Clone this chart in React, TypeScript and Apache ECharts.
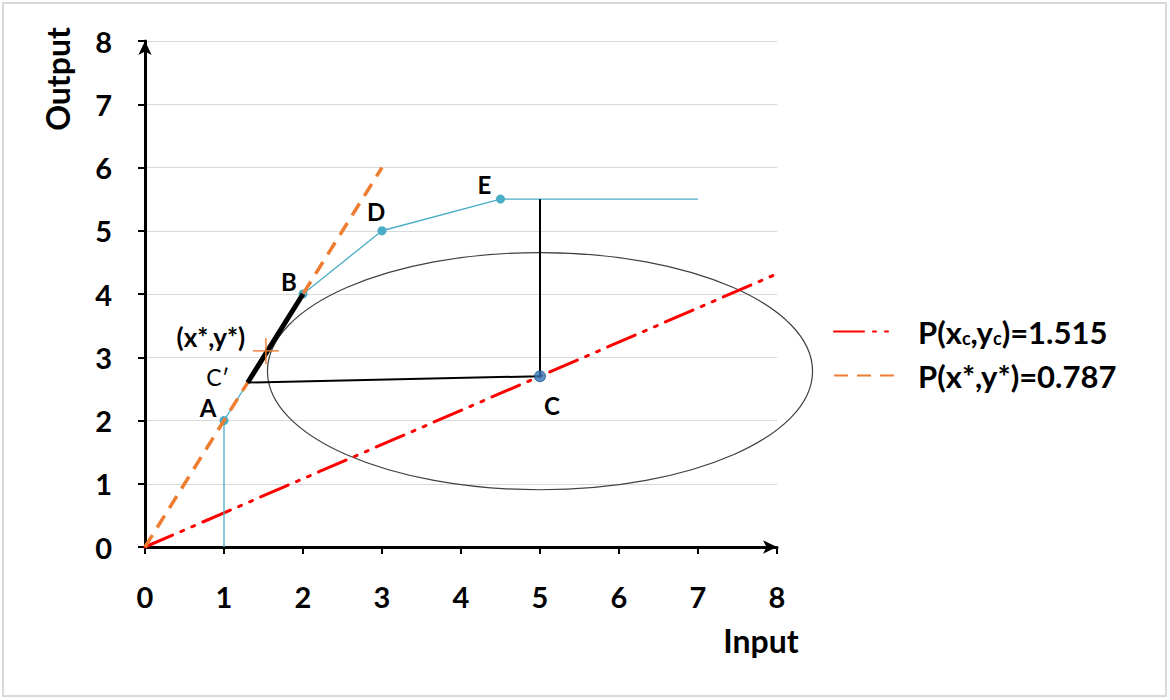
import React, { useEffect, useRef } from "react";
import * as echarts from "echarts";

// ---- data ----
const axisTicks = [0, 1, 2, 3, 4, 5, 6, 7, 8];
const frontierPath: number[][] = [[1, 0], [1, 2], [2, 4], [3, 5], [4.5, 5.5], [7, 5.5]];
const frontierMarked = [false, true, true, true, true, false];
const orangeRay: number[][] = [[0, 0], [3, 6]];
const redRay: number[][] = [[0, 0], [8, 4.32]];
const boldSegment: number[][] = [[1.3, 2.6], [2, 4]];
const projectionPath: number[][] = [[1.3, 2.6], [5, 2.7], [5, 5.5]];
const pointC: number[] = [5, 2.7];
const optimumPoint: number[] = [1.53, 3.1];
const ellipseSpec: number[] = [5, 2.78, 3.45, 1.875]; // cx, cy, rx, ry (data units)
const pointLabelNames = ["A", "B", "D", "E", "C", "C\u2032", "(x*,y*)"];
const pointLabelCoords: number[][] = [[1, 2], [2, 4], [3, 5], [4.5, 5.5], [5, 2.7], [1.3, 2.6], [1.53, 3.1]];
const pointLabelOffsets: number[][] = [[-16, -13], [-14, -13], [-6, -19], [-16, -15], [12, 29], [-30, -6], [-55, -14]];
const redName = "P(xc,yc)=1.515";
const orangeName = "P(x*,y*)=0.787";

const FONT = "Lato";

export default function App() {
  const ref = useRef<HTMLDivElement>(null);
  useEffect(() => {
    if (!ref.current) return;
    const chart = echarts.init(ref.current, undefined, { renderer: "svg" });
    const axisCommon = {
      type: "value" as const,
      min: axisTicks[0],
      max: axisTicks[axisTicks.length - 1],
      interval: 1,
      axisLine: {
        show: true,
        onZero: false,
        lineStyle: { color: "#000", width: 3 },
        symbol: ["none", "arrow"],
        symbolSize: [10, 14],
      },
      axisTick: { show: true, length: 7, lineStyle: { color: "#000", width: 2 } },
    };
    const option: any = {
      animation: false,
      backgroundColor: "#fff",
      grid: { left: 145, right: 393, top: 41, bottom: 153 },
      xAxis: {
        ...axisCommon,
        axisLabel: { margin: 35, fontFamily: FONT, fontSize: 29, fontWeight: "bold", color: "#000" },
        splitLine: { show: false },
      },
      yAxis: {
        ...axisCommon,
        axisLabel: { margin: 33, fontFamily: FONT, fontSize: 29, fontWeight: "bold", color: "#000" },
        splitLine: { show: true, lineStyle: { color: "#D9D9D9", width: 1 } },
      },
      legend: {
        data: [redName, orangeName],
        orient: "vertical",
        left: 828,
        top: 311,
        itemWidth: 62,
        itemHeight: 2,
        itemGap: 13,
        itemStyle: { opacity: 0 },
        formatter: (name: string) =>
          name === redName
            ? "{t|P(x}{s|c}{t|,y}{s|c}{t|)=1.515}"
            : "{t|P(x*,y*)=0.787}",
        textStyle: {
          fontFamily: FONT,
          fontSize: 31,
          fontWeight: "bold",
          color: "#000",
          padding: [0, 0, 0, 17],
          rich: {
            t: { fontFamily: FONT, fontSize: 31, fontWeight: "bold", color: "#000", lineHeight: 32 },
            s: { fontFamily: FONT, fontSize: 18, fontWeight: "bold", color: "#000", lineHeight: 32, padding: [12, 0, 0, 0] },
          },
        },
      },
      graphic: [
        {
          type: "rect",
          x: 3,
          y: 3,
          shape: { width: 1163, height: 693 },
          style: { fill: "none", stroke: "#D9D9D9", lineWidth: 2 },
          silent: true,
        },
        {
          type: "text",
          x: 57,
          y: 79,
          rotation: Math.PI / 2,
          style: {
            text: "Output",
            fontFamily: FONT,
            fontSize: 32,
            fontWeight: "bold",
            fill: "#000",
            align: "center",
            verticalAlign: "middle",
          },
        },
        {
          type: "text",
          x: 761,
          y: 640,
          style: {
            text: "Input",
            fontFamily: FONT,
            fontSize: 32,
            fontWeight: "bold",
            fill: "#000",
            align: "center",
            verticalAlign: "middle",
          },
        },
      ],
      series: [
        {
          name: "ellipse",
          type: "custom",
          clip: false,
          silent: true,
          z: 1,
          data: [ellipseSpec],
          renderItem: (params: any, api: any) => {
            const c = api.coord([api.value(0), api.value(1)]);
            const s = api.size([api.value(2), api.value(3)]);
            return {
              type: "ellipse",
              shape: { cx: c[0], cy: c[1], rx: s[0], ry: s[1] },
              style: { fill: "none", stroke: "#404040", lineWidth: 1.2 },
            };
          },
        },
        {
          name: redName,
          type: "line",
          data: redRay,
          symbol: "none",
          color: "#FF0000",
          lineStyle: { color: "#FF0000", width: 3, type: [30, 9, 3, 9, 3, 9], cap: "round" },
          z: 2,
        },
        {
          name: "frontier",
          type: "line",
          data: frontierPath.map((p, i) =>
            frontierMarked[i] ? { value: p } : { value: p, symbol: "none" }
          ),
          symbol: "circle",
          symbolSize: 9,
          color: "#4BACC6",
          itemStyle: { color: "#4BACC6" },
          lineStyle: { color: "#4BACC6", width: 1.3 },
          z: 3,
        },
        {
          name: orangeName,
          type: "line",
          data: orangeRay,
          symbol: "none",
          color: "#ED7D31",
          lineStyle: { color: "#ED7D31", width: 3.5, type: [14, 9] },
          z: 4,
        },
        {
          name: "projection",
          type: "line",
          data: projectionPath,
          symbol: "none",
          lineStyle: { color: "#000", width: 2 },
          z: 5,
        },
        {
          name: "bold",
          type: "line",
          data: boldSegment,
          symbol: "none",
          lineStyle: { color: "#000", width: 5 },
          z: 6,
        },
        {
          name: "C",
          type: "scatter",
          data: [pointC],
          symbol: "circle",
          symbolSize: 11,
          itemStyle: { color: "#2E75B6", borderColor: "#1F4E79", borderWidth: 1 },
          z: 7,
        },
        {
          name: "optimum",
          type: "scatter",
          data: [optimumPoint],
          symbol: "path://M0,9.3 L20,9.3 L20,10.7 L0,10.7 Z M9.3,0 L10.7,0 L10.7,20 L9.3,20 Z",
          symbolSize: 26,
          itemStyle: { color: "#ED7D31" },
          z: 8,
        },
        {
          name: "labels",
          type: "scatter",
          symbolSize: 1,
          itemStyle: { color: "rgba(0,0,0,0)" },
          z: 9,
          data: pointLabelNames.map((n, i) => ({
            name: n,
            value: pointLabelCoords[i],
            label: {
              show: true,
              position: "inside",
              offset: pointLabelOffsets[i],
              formatter: n,
              fontFamily: FONT,
              fontSize: n === "C\u2032" ? 23 : n === "(x*,y*)" ? 26 : 24,
              fontWeight: n === "C\u2032" ? "normal" : "bold",
              color: "#000",
              opacity: 1,
              textBorderWidth: 0,
            },
          })),
        },
      ],
    };
    chart.setOption(option);
    return () => chart.dispose();
  }, []);
  return (
    <div
      ref={ref}
      style={{ position: "fixed", left: 0, top: 0, width: 1170, height: 700 }}
    />
  );
}
